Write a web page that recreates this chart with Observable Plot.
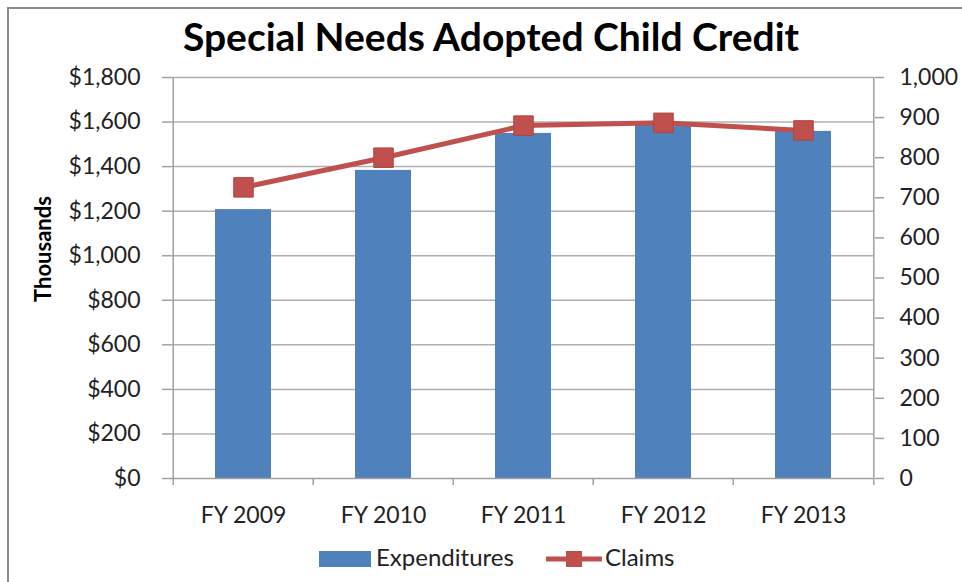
<!DOCTYPE html>
<html>
<head>
<meta charset="utf-8">
<script src="https://cdn.jsdelivr.net/npm/d3@7"></script>
<script src="https://cdn.jsdelivr.net/npm/@observablehq/plot@0.6"></script>
<style>
  html, body { margin: 0; padding: 0; background: #fff; overflow: hidden; }
  #wrap { position: relative; width: 962px; height: 582px; overflow: hidden; font-family: Lato, "Noto Sans", sans-serif; color: #222; }
  #frame { position: absolute; left: 7px; top: 7px; width: 1100px; height: 1100px; border: 2px solid #8c8c8c; box-sizing: border-box; }
  #title { position: absolute; left: 0; top: 13px; width: 982px; text-align: center; font-weight: 700; font-size: 39px; color: #000; white-space: nowrap; }
  #ylabel { position: absolute; left: 42px; top: 249px; transform: translate(-50%, -50%) rotate(-90deg); font-weight: 700; font-size: 22px; color: #000; white-space: nowrap; }
  #chart { position: absolute; left: 0; top: 0; }
  .leg { position: absolute; top: 545px; font-size: 24px; color: #222; white-space: nowrap; line-height: 28px; }
</style>
</head>
<body>
<div id="wrap">
  <div id="frame"></div>
  <div id="chart"></div>
  <div id="title"></div>
  <div id="ylabel"></div>
  <div id="legend"></div>
</div>
<script>
const title = "Special Needs Adopted Child Credit";
const yLabel = "Thousands";
const years = ["FY 2009", "FY 2010", "FY 2011", "FY 2012", "FY 2013"];
const expenditures = [1207, 1383, 1549, 1590, 1558];
const claims = [726, 800, 880, 887, 868];
const seriesNames = ["Expenditures", "Claims"];
const leftTicks = [0, 200, 400, 600, 800, 1000, 1200, 1400, 1600, 1800];
const rightTicks = [0, 100, 200, 300, 400, 500, 600, 700, 800, 900, 1000];

const barColor = "#4F81BD";
const lineColor = "#C0504D";
const axisColor = "#a0a0a0";
const gridColor = "#b0b0b0";

const leftMax = 1800, rightMax = 1000;
const ratio = leftMax / rightMax;
const data = years.map((y, i) => ({year: y, exp: expenditures[i], claims: claims[i]}));

const W = 962, H = 582;
const mT = 77, mR = 88, mB = 104, mL = 171;
const step = (W - mL - mR) / years.length;
const fmt = d3.format(",");

document.getElementById("title").textContent = title;
document.getElementById("ylabel").textContent = yLabel;

const chart = Plot.plot({
  width: W, height: H,
  marginTop: mT, marginRight: mR, marginBottom: mB, marginLeft: mL,
  style: {fontFamily: "Lato, 'Noto Sans', sans-serif", fontSize: "23px", color: "#222", background: "transparent"},
  x: {domain: years, paddingInner: 0.6, paddingOuter: 0.3},
  y: {domain: [0, leftMax]},
  marks: [
    Plot.ruleY(leftTicks.filter(d => d > 0), {stroke: gridColor, strokeWidth: 1.5}),
    Plot.barY(data, {x: "year", y: "exp", fill: barColor}),
    Plot.ruleY([0], {stroke: axisColor, strokeWidth: 1.5}),
    Plot.ruleX([years[0]], {dx: -step / 2, stroke: axisColor, strokeWidth: 1.5, insetBottom: -7}),
    Plot.ruleX([years[years.length - 1]], {dx: step / 2, stroke: axisColor, strokeWidth: 1.5, insetBottom: -7}),
    Plot.ruleX(years.slice(1), {dx: -step / 2, y1: 0, y2: 0, stroke: axisColor, strokeWidth: 1.5, insetBottom: -7}),
    Plot.axisY(leftTicks, {anchor: "left", tickSize: 9, tickPadding: 22, tickFormat: d => "$" + fmt(d), stroke: axisColor, strokeWidth: 1.5, fill: "#222", fontSize: 23, label: null}),
    Plot.axisY(rightTicks.map(d => d * ratio), {anchor: "right", tickSize: 9, tickPadding: 16, tickFormat: d => fmt(Math.round(d / ratio)), stroke: axisColor, strokeWidth: 1.5, fill: "#222", fontSize: 23, label: null}),
    Plot.axisX({tickSize: 0, tickPadding: 28, fill: "#222", fontSize: 23, label: null}),
    Plot.line(data, {x: "year", y: d => d.claims * ratio, stroke: lineColor, strokeWidth: 5}),
    Plot.dot(data, {x: "year", y: d => d.claims * ratio, symbol: "square", r: 11, fill: lineColor, stroke: "#b5433f", strokeWidth: 1})
  ]
});
document.getElementById("chart").appendChild(chart);

// Legend
const legend = document.getElementById("legend");
legend.innerHTML = `
  <div class="leg" style="left:319px;top:551px;width:52px;height:16px;background:${barColor};"></div>
  <div class="leg" style="left:376px;top:543px;">${seriesNames[0]}</div>
  <svg class="leg" style="left:546px;top:549px;" width="56" height="20">
    <line x1="0" x2="56" y1="10" y2="10" stroke="${lineColor}" stroke-width="5"/>
    <rect x="20" y="2" width="16" height="16" fill="${lineColor}"/>
  </svg>
  <div class="leg" style="left:605px;top:543px;">${seriesNames[1]}</div>
`;
</script>
</body>
</html>
